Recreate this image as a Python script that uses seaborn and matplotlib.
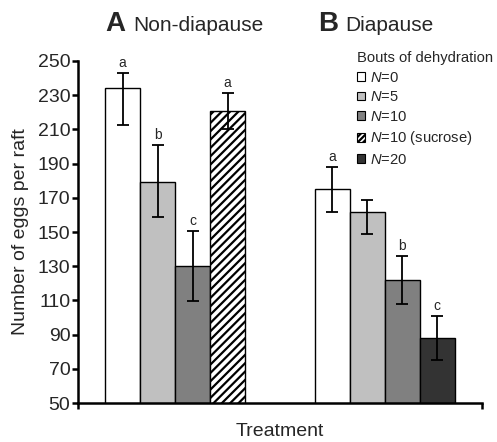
import matplotlib
matplotlib.use("Agg")
import matplotlib.pyplot as plt
from matplotlib.patches import Patch
import numpy as np
import pandas as pd
import seaborn as sns

# values (eggs per raft, bar height and error bar ends)
groups = ["Non-diapause", "Diapause"]

a_levels = ["N=0", "N=5", "N=10", "N=10 (sucrose)"]
a_means = [234, 179.5, 130, 221]
a_low = [212.5, 159, 109.5, 210]
a_high = [243, 201, 150.5, 231.5]
a_letters = ["a", "b", "c", "a"]

b_levels = ["N=0", "N=5", "N=10", "N=20"]
b_means = [175, 162, 122, 88]
b_low = [162, 149, 108, 75]
b_high = [188, 169, 136, 101]
b_letters = ["a", "", "b", "c"]

legend_levels = ["N=0", "N=5", "N=10", "N=10 (sucrose)", "N=20"]
colors = {"N=0": "white", "N=5": "#c0c0c0", "N=10": "#808080",
          "N=10 (sucrose)": "white", "N=20": "#333333"}

sns.set_style("ticks")
plt.rcParams['font.family'] = ['Liberation Sans', 'DejaVu Sans']
plt.rcParams['mathtext.fontset'] = 'custom'
plt.rcParams['mathtext.it'] = 'Liberation Sans:italic'
plt.rcParams['mathtext.rm'] = 'Liberation Sans'
plt.rcParams['hatch.linewidth'] = 1.6

fig = plt.figure(figsize=(4.97, 4.42), dpi=100)
ax = fig.add_axes([0.157, 0.088, 0.813, 0.774])

df_a = pd.DataFrame({"group": groups[0], "bouts": a_levels, "eggs": a_means})
df_b = pd.DataFrame({"group": groups[1], "bouts": b_levels, "eggs": b_means})

sns.barplot(data=df_a, x="group", y="eggs", hue="bouts", order=groups, hue_order=a_levels,
            palette=colors, saturation=1, width=0.668, edgecolor="black", linewidth=1,
            errorbar=None, legend=False, ax=ax)
bars_a = list(ax.patches)
sns.barplot(data=df_b, x="group", y="eggs", hue="bouts", order=groups, hue_order=b_levels,
            palette=colors, saturation=1, width=0.668, edgecolor="black", linewidth=1,
            errorbar=None, legend=False, ax=ax)
bars_b = list(ax.patches)[len(bars_a):]

bars_a[3].set_hatch("////")

# error bars + significance letters
for bars, means, lo, hi, letters in [(bars_a, a_means, a_low, a_high, a_letters),
                                     (bars_b, b_means, b_low, b_high, b_letters)]:
    xs = [p.get_x() + p.get_width() / 2 for p in bars]
    means = np.array(means)
    yerr = [means - np.array(lo), np.array(hi) - means]
    ax.errorbar(xs, means, yerr=yerr, fmt="none", ecolor="black", elinewidth=1.3,
                capsize=4.3, capthick=1.3)
    for x, h, t in zip(xs, hi, letters):
        ax.annotate(t, (x, h), xytext=(0, 2), textcoords="offset points",
                    ha="center", va="bottom", fontsize=10)

ax.set_ylim(50, 250)
ax.set_yticks(range(50, 251, 20))
ax.set_xlim(-0.463, 1.465)
ax.set_xticks([-0.463, 1.465])
ax.set_xticklabels([])
ax.set_xlabel("Treatment", fontsize=14, labelpad=9)
ax.set_ylabel("Number of eggs per raft", fontsize=14, labelpad=6)
ax.tick_params(axis="both", width=1.8, length=4.5, labelsize=14, pad=1, color="black")
sns.despine(ax=ax)
for s in ["left", "bottom"]:
    ax.spines[s].set_linewidth(1.8)
    ax.spines[s].set_color("black")

# panel headings
fig.text(105 / 497, 1 - 31 / 442, "A", fontsize=20, fontweight="bold", va="baseline")
fig.text(133 / 497, 1 - 31 / 442, "Non-diapause", fontsize=15, va="baseline")
fig.text(318 / 497, 1 - 31 / 442, "B", fontsize=20, fontweight="bold", va="baseline")
fig.text(345 / 497, 1 - 31 / 442, "Diapause", fontsize=15, va="baseline")

handles = [Patch(facecolor=colors[l], edgecolor="black", linewidth=0.8,
                 hatch="//////" if "sucrose" in l else None,
                 label=l.replace("N", r"$\it{N}$")) for l in legend_levels]
fig.legend(handles=handles, title="Bouts of dehydration", loc="upper left",
           bbox_to_anchor=(357 / 497, 1 - 51 / 442), bbox_transform=fig.transFigure,
           frameon=False, fontsize=10.6, title_fontsize=10.6, handlelength=0.55,
           handleheight=0.55, handletextpad=0.35, labelspacing=0.38, borderpad=0,
           borderaxespad=0, alignment="left")

fig.savefig("out.png", dpi=100)
